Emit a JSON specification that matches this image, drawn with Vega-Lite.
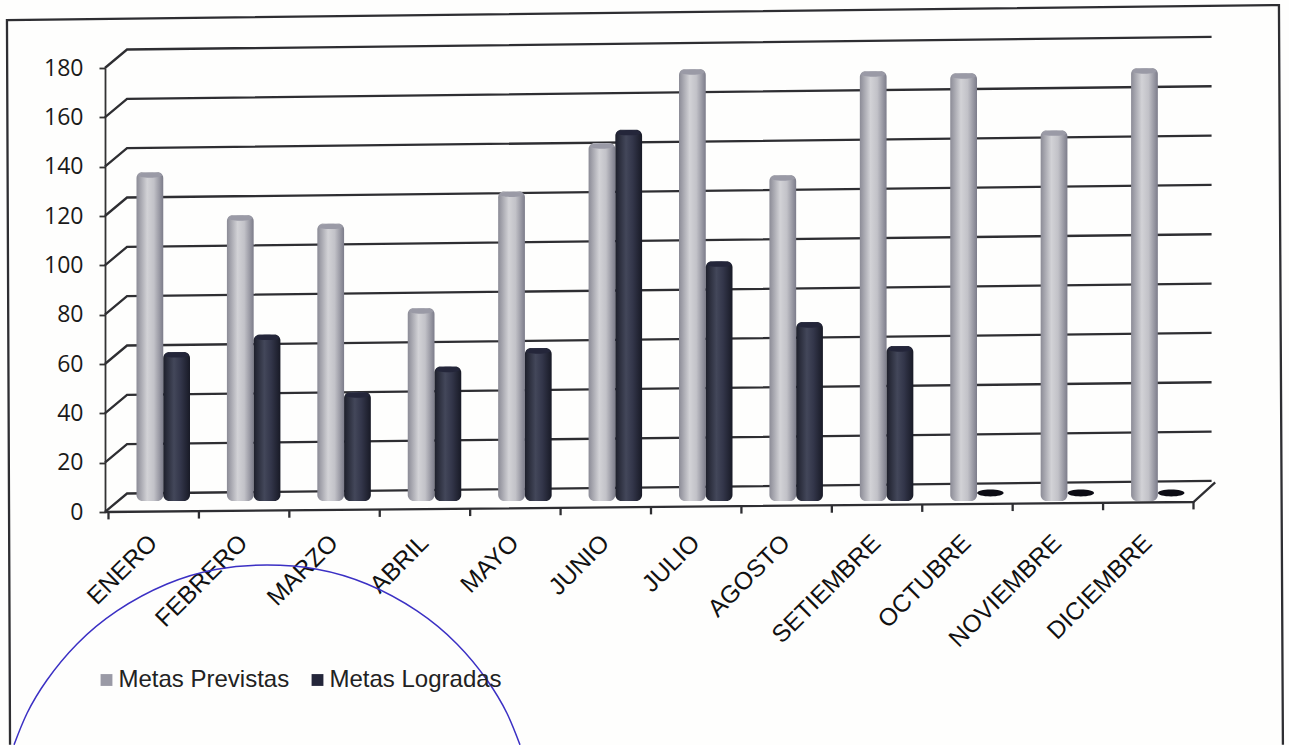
{"$schema":"https://vega.github.io/schema/vega-lite/v6.json","width":1085,"height":444,"autosize":{"type":"none"},"padding":{"left":108.5,"top":68,"right":95.5,"bottom":233},"background":"#fefefd","config":{"view":{"stroke":null}},"datasets":{"metas":[
{"mes":"ENERO","serie":"Metas Previstas","valor":137.8},{"mes":"FEBRERO","serie":"Metas Previstas","valor":120.4},{"mes":"MARZO","serie":"Metas Previstas","valor":117},{"mes":"ABRIL","serie":"Metas Previstas","valor":82.7},{"mes":"MAYO","serie":"Metas Previstas","valor":130},{"mes":"JUNIO","serie":"Metas Previstas","valor":149.6},{"mes":"JULIO","serie":"Metas Previstas","valor":179.6},{"mes":"AGOSTO","serie":"Metas Previstas","valor":136.6},{"mes":"SETIEMBRE","serie":"Metas Previstas","valor":178.8},{"mes":"OCTUBRE","serie":"Metas Previstas","valor":178},{"mes":"NOVIEMBRE","serie":"Metas Previstas","valor":154.8},{"mes":"DICIEMBRE","serie":"Metas Previstas","valor":180},
{"mes":"ENERO","serie":"Metas Logradas","valor":64.9},{"mes":"FEBRERO","serie":"Metas Logradas","valor":72},{"mes":"MARZO","serie":"Metas Logradas","valor":48.6},{"mes":"ABRIL","serie":"Metas Logradas","valor":59},{"mes":"MAYO","serie":"Metas Logradas","valor":66.5},{"mes":"JUNIO","serie":"Metas Logradas","valor":155},{"mes":"JULIO","serie":"Metas Logradas","valor":101.7},{"mes":"AGOSTO","serie":"Metas Logradas","valor":77},{"mes":"SETIEMBRE","serie":"Metas Logradas","valor":67.3},{"mes":"OCTUBRE","serie":"Metas Logradas","valor":0},{"mes":"NOVIEMBRE","serie":"Metas Logradas","valor":0},{"mes":"DICIEMBRE","serie":"Metas Logradas","valor":0}],
"estructura":[
{"id":"g0","o":0,"t":-0.04,"v":0},{"id":"g0","o":1,"t":0.205,"v":7.5},{"id":"g0","o":2,"t":12.2,"v":12.6},
{"id":"g20","o":0,"t":-0.04,"v":20},{"id":"g20","o":1,"t":0.205,"v":27.5},{"id":"g20","o":2,"t":12.2,"v":32.6},
{"id":"g40","o":0,"t":-0.04,"v":40},{"id":"g40","o":1,"t":0.205,"v":47.5},{"id":"g40","o":2,"t":12.2,"v":52.6},
{"id":"g60","o":0,"t":-0.04,"v":60},{"id":"g60","o":1,"t":0.205,"v":67.5},{"id":"g60","o":2,"t":12.2,"v":72.6},
{"id":"g80","o":0,"t":-0.04,"v":80},{"id":"g80","o":1,"t":0.205,"v":87.5},{"id":"g80","o":2,"t":12.2,"v":92.6},
{"id":"g100","o":0,"t":-0.04,"v":100},{"id":"g100","o":1,"t":0.205,"v":107.5},{"id":"g100","o":2,"t":12.2,"v":112.6},
{"id":"g120","o":0,"t":-0.04,"v":120},{"id":"g120","o":1,"t":0.205,"v":127.5},{"id":"g120","o":2,"t":12.2,"v":132.6},
{"id":"g140","o":0,"t":-0.04,"v":140},{"id":"g140","o":1,"t":0.205,"v":147.5},{"id":"g140","o":2,"t":12.2,"v":152.6},
{"id":"g160","o":0,"t":-0.04,"v":160},{"id":"g160","o":1,"t":0.205,"v":167.5},{"id":"g160","o":2,"t":12.2,"v":172.6},
{"id":"g180","o":0,"t":-0.04,"v":180},{"id":"g180","o":1,"t":0.205,"v":187.5},{"id":"g180","o":2,"t":12.2,"v":192.6},
{"id":"piso","o":0,"t":-0.04,"v":0},{"id":"piso","o":1,"t":12,"v":4.05},{"id":"piso","o":2,"t":12.24,"v":12},
{"id":"m0","o":0,"t":0,"v":0},{"id":"m0","o":1,"t":0,"v":-3},
{"id":"m1","o":0,"t":1,"v":0.34},{"id":"m1","o":1,"t":1,"v":-2.66},
{"id":"m2","o":0,"t":2,"v":0.68},{"id":"m2","o":1,"t":2,"v":-2.32},
{"id":"m3","o":0,"t":3,"v":1.01},{"id":"m3","o":1,"t":3,"v":-1.99},
{"id":"m4","o":0,"t":4,"v":1.35},{"id":"m4","o":1,"t":4,"v":-1.65},
{"id":"m5","o":0,"t":5,"v":1.69},{"id":"m5","o":1,"t":5,"v":-1.31},
{"id":"m6","o":0,"t":6,"v":2.03},{"id":"m6","o":1,"t":6,"v":-0.97},
{"id":"m7","o":0,"t":7,"v":2.36},{"id":"m7","o":1,"t":7,"v":-0.64},
{"id":"m8","o":0,"t":8,"v":2.7},{"id":"m8","o":1,"t":8,"v":-0.3},
{"id":"m9","o":0,"t":9,"v":3.04},{"id":"m9","o":1,"t":9,"v":0.04},
{"id":"m10","o":0,"t":10,"v":3.38},{"id":"m10","o":1,"t":10,"v":0.38},
{"id":"m11","o":0,"t":11,"v":3.71},{"id":"m11","o":1,"t":11,"v":0.71},
{"id":"m12","o":0,"t":12,"v":4.05},{"id":"m12","o":1,"t":12,"v":1.05},
{"id":"marco","o":0,"t":-1.089,"v":-94.4},{"id":"marco","o":1,"t":-1.123,"v":199.4},{"id":"marco","o":2,"t":12.945,"v":205.5},{"id":"marco","o":3,"t":12.989,"v":-94.4}],
"arco":[{"o":0,"t":-1.045,"v":-94.4},{"o":1,"t":-0.901,"v":-81.6},{"o":2,"t":-0.68,"v":-68.1},{"o":3,"t":-0.348,"v":-53.5},{"o":4,"t":0.094,"v":-40.1},{"o":5,"t":0.647,"v":-29.2},{"o":6,"t":1.2,"v":-23.2},{"o":7,"t":1.753,"v":-21.5},{"o":8,"t":2.306,"v":-23.2},{"o":9,"t":2.859,"v":-29.2},{"o":10,"t":3.412,"v":-40.1},{"o":11,"t":3.854,"v":-53.5},{"o":12,"t":4.186,"v":-68.1},{"o":13,"t":4.407,"v":-81.6},{"o":14,"t":4.551,"v":-94.4}]},
"resolve":{"scale":{"x":"independent"}},
"layer":[
{"data":{"name":"estructura"},"mark":{"type":"line","color":"#2e2e32","strokeWidth":2.3,"clip":false},"encoding":{"x":{"field":"t","type":"quantitative","scale":{"domain":[0,12],"nice":false,"zero":false},"axis":null},"y":{"field":"v","type":"quantitative","scale":{"domain":[0,180],"nice":false},"axis":{"title":null,"values":[0,20,40,60,80,100,120,140,160,180],"grid":false,"offset":3.5,"domainColor":"#333","domainWidth":1.8,"tickColor":"#333","tickWidth":1.8,"tickSize":6,"labelPadding":16,"labelFont":"Open Sans","labelFontSize":23,"labelColor":"#1a1a1a"}},"detail":{"field":"id"},"order":{"field":"o"}}},
{"data":{"name":"metas"},"layer":[
{"transform":[{"filter":"datum.serie==='Metas Previstas'"}],"mark":{"type":"bar","cornerRadius":6,"color":{"gradient":"linear","x1":0,"x2":1,"y1":0,"y2":0,"stops":[{"offset":0,"color":"#8b8b96"},{"offset":0.4,"color":"#d2d2d6"},{"offset":0.65,"color":"#c2c2c8"},{"offset":1,"color":"#7c7c8a"}]}},"encoding":{"x":{"field":"mes","type":"nominal","sort":null,"scale":{"domain":["ENERO","FEBRERO","MARZO","ABRIL","MAYO","JUNIO","JULIO","AGOSTO","SETIEMBRE","OCTUBRE","NOVIEMBRE","DICIEMBRE"],"paddingInner":0,"paddingOuter":0},"axis":{"title":null,"domain":false,"ticks":false,"labelAngle":-45,"labelAlign":"right","labelBaseline":"middle","labelPadding":27,"labelFont":"Liberation Sans","labelFontSize":24.5,"labelColor":"#111","labelOverlap":false,"labelLimit":300}},"xOffset":{"field":"serie","type":"nominal","scale":{"domain":["Metas Previstas","Metas Logradas"],"range":[28,81.5],"paddingInner":0,"paddingOuter":0}},"y":{"field":"valor","type":"quantitative"},"y2":{"datum":4.5}}},
{"transform":[{"filter":"datum.serie==='Metas Logradas' && datum.valor>0"}],"mark":{"type":"bar","cornerRadius":6,"color":{"gradient":"linear","x1":0,"x2":1,"y1":0,"y2":0,"stops":[{"offset":0,"color":"#1d1f2b"},{"offset":0.4,"color":"#43475a"},{"offset":0.65,"color":"#33364a"},{"offset":1,"color":"#181a26"}]}},"encoding":{"x":{"field":"mes","type":"nominal","sort":null,"scale":{"domain":["ENERO","FEBRERO","MARZO","ABRIL","MAYO","JUNIO","JULIO","AGOSTO","SETIEMBRE","OCTUBRE","NOVIEMBRE","DICIEMBRE"],"paddingInner":0,"paddingOuter":0}},"xOffset":{"field":"serie","type":"nominal","scale":{"domain":["Metas Previstas","Metas Logradas"],"range":[28,81.5],"paddingInner":0,"paddingOuter":0}},"y":{"field":"valor","type":"quantitative"},"y2":{"datum":4.5}}},
{"transform":[{"filter":"datum.valor>0"}],"mark":{"type":"point","filled":true,"opacity":1,"size":600,"yOffset":3,"shape":"M-1,0 A1,0.22 0 1 1 1,0 A1,0.22 0 1 1 -1,0 Z"},"encoding":{"x":{"field":"mes","type":"nominal","sort":null,"scale":{"domain":["ENERO","FEBRERO","MARZO","ABRIL","MAYO","JUNIO","JULIO","AGOSTO","SETIEMBRE","OCTUBRE","NOVIEMBRE","DICIEMBRE"],"paddingInner":0,"paddingOuter":0}},"xOffset":{"field":"serie","type":"nominal","scale":{"domain":["Metas Previstas","Metas Logradas"],"range":[28,81.5],"paddingInner":0,"paddingOuter":0}},"y":{"field":"valor","type":"quantitative"},"color":{"field":"serie","type":"nominal","scale":{"domain":["Metas Previstas","Metas Logradas"],"range":["#9a9aa6","#24263a"]},"legend":{"title":null,"orient":"none","legendX":-14,"legendY":600,"direction":"horizontal","columns":2,"symbolType":"square","symbolSize":140,"symbolStrokeWidth":0,"labelFont":"Liberation Sans","labelFontSize":24,"labelColor":"#222","labelOffset":0,"labelLimit":300,"columnPadding":16}}}},
{"transform":[{"filter":"datum.valor===0"}],"mark":{"type":"point","filled":true,"opacity":1,"size":700,"yOffset":-19,"color":"#0c0c14","shape":"M-1,0 A1,0.26 0 1 1 1,0 A1,0.26 0 1 1 -1,0 Z"},"encoding":{"x":{"field":"mes","type":"nominal","sort":null,"scale":{"domain":["ENERO","FEBRERO","MARZO","ABRIL","MAYO","JUNIO","JULIO","AGOSTO","SETIEMBRE","OCTUBRE","NOVIEMBRE","DICIEMBRE"],"paddingInner":0,"paddingOuter":0}},"xOffset":{"field":"serie","type":"nominal","scale":{"domain":["Metas Previstas","Metas Logradas"],"range":[28,81.5],"paddingInner":0,"paddingOuter":0}},"y":{"field":"valor","type":"quantitative"}}}
]},
{"data":{"name":"arco"},"mark":{"type":"line","color":"#3b30c4","strokeWidth":1.5,"interpolate":"natural","clip":false},"encoding":{"x":{"field":"t","type":"quantitative","scale":{"domain":[0,12],"nice":false,"zero":false},"axis":null},"y":{"field":"v","type":"quantitative"},"order":{"field":"o"}}}
]}
